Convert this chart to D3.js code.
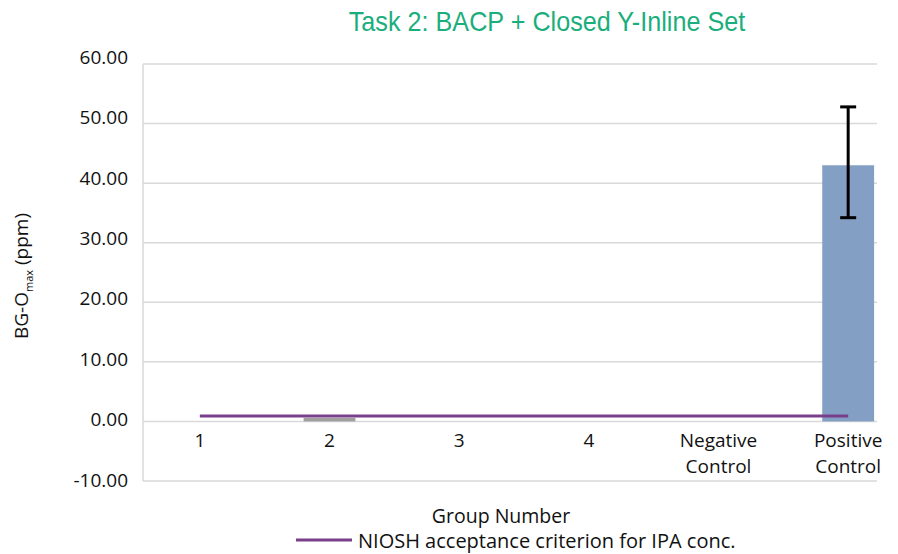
<!DOCTYPE html>
<html>
<head>
<meta charset="utf-8">
<script src="https://cdn.jsdelivr.net/npm/d3@7"></script>
<style>
  body { margin: 0; background: #fff; }
  text { font-family: "Open Sans", sans-serif; fill: #111; }
</style>
</head>
<body>
<svg id="chart"></svg>
<script>
let w = 898;
let h = 554;

// data
const categories = ['1', '2', '3', '4', 'Negative Control', 'Positive Control'];
const values = [null, 0.6, null, null, null, 43.0];
const errLow = [null, null, null, null, null, 34.2];
const errHigh = [null, null, null, null, null, 52.8];
const barColors = ['#a5a5a5', '#a0a0a0', '#a5a5a5', '#a5a5a5', '#a5a5a5', '#849fc4'];
const nioshValue = 0.9;
const yTicks = [-10, 0, 10, 20, 30, 40, 50, 60];

const svg = d3.select('#chart')
  .attr('width', w)
  .attr('height', h)

const plotLeft = 143;
const plotRight = 877;

const x = d3.scaleBand()
  .domain(categories)
  .range([135, 913])
  .paddingInner(0.6)
  .paddingOuter(0.3)

const y = d3.scaleLinear()
  .domain([-10, 60])
  .range([481, 64])

// tick labels sit on a slightly wider spacing than the grid in the original
const yLab = d3.scaleLinear()
  .domain([-10, 60])
  .range([480, 57])

// title (condensed look)
svg.append('text')
  .attr('transform', 'translate(547,31) scale(0.9,1)')
  .attr('text-anchor', 'middle')
  .style('font-family', '"Liberation Sans Narrow", "Liberation Sans", sans-serif')
  .style('font-size', '28px')
  .style('fill', '#1bae7d')
  .text('Task 2: BACP + Closed Y-Inline Set')

// grid
svg.append('g')
  .selectAll('line')
  .data(yTicks)
  .enter()
  .append('line')
  .attr('x1', plotLeft)
  .attr('x2', plotRight)
  .attr('y1', d => y(d))
  .attr('y2', d => y(d))
  .attr('stroke', '#d9d9d9')
  .attr('stroke-width', 1.5)

svg.append('line')
  .attr('x1', plotLeft)
  .attr('x2', plotLeft)
  .attr('y1', y(60))
  .attr('y2', y(-10))
  .attr('stroke', '#d9d9d9')
  .attr('stroke-width', 1.5)

// y tick labels
svg.append('g')
  .selectAll('text')
  .data(yTicks)
  .enter()
  .append('text')
  .attr('x', 128)
  .attr('y', d => yLab(d))
  .attr('dy', '0.35em')
  .attr('text-anchor', 'end')
  .style('font-size', '19px')
  .text(d => d.toFixed(2))

// bars
const barData = categories.map((c, i) => ({cat: c, v: values[i], color: barColors[i]}))
  .filter(d => d.v !== null)

svg.append('g')
  .selectAll('rect')
  .data(barData)
  .enter()
  .append('rect')
  .attr('x', d => x(d.cat))
  .attr('width', x.bandwidth())
  .attr('y', d => y(Math.max(0, d.v)))
  .attr('height', d => Math.abs(y(d.v) - y(0)))
  .attr('fill', d => d.color)

// error bars
const errData = categories.map((c, i) => ({cat: c, lo: errLow[i], hi: errHigh[i]}))
  .filter(d => d.lo !== null)

const eg = svg.append('g').attr('stroke', '#000').attr('stroke-width', 3)
errData.forEach(d => {
  const cx = x(d.cat) + x.bandwidth() / 2;
  eg.append('line').attr('x1', cx).attr('x2', cx).attr('y1', y(d.hi)).attr('y2', y(d.lo))
  eg.append('line').attr('x1', cx - 8).attr('x2', cx + 8).attr('y1', y(d.hi)).attr('y2', y(d.hi))
  eg.append('line').attr('x1', cx - 8).attr('x2', cx + 8).attr('y1', y(d.lo)).attr('y2', y(d.lo))
})

// NIOSH line
const line = d3.line()
  .x(d => x(d) + x.bandwidth() / 2)
  .y(() => y(nioshValue))

svg.append('path')
  .datum([categories[0], categories[categories.length - 1]])
  .attr('d', line)
  .attr('fill', 'none')
  .attr('stroke', '#7a3f8b')
  .attr('stroke-width', 3)

// category labels
const catG = svg.append('g')
categories.forEach(c => {
  const parts = c.split(' ');
  const t = catG.append('text')
    .attr('x', x(c) + x.bandwidth() / 2)
    .attr('y', 447)
    .attr('text-anchor', 'middle')
    .style('font-size', '19px')
  parts.forEach((p, j) => {
    t.append('tspan')
      .attr('x', x(c) + x.bandwidth() / 2)
      .attr('dy', j === 0 ? 0 : 26)
      .text(p)
  })
})

// axis titles
svg.append('text')
  .attr('x', 501)
  .attr('y', 523)
  .attr('text-anchor', 'middle')
  .style('font-size', '19.5px')
  .text('Group Number')

const yt = svg.append('text')
  .attr('transform', 'translate(28,276) rotate(-90)')
  .attr('text-anchor', 'middle')
  .style('font-size', '19px')
yt.append('tspan').text('BG-O')
yt.append('tspan').attr('dy', 5).style('font-size', '11px').text('max')
yt.append('tspan').attr('dy', -5).text(' (ppm)')

// legend
svg.append('line')
  .attr('x1', 296)
  .attr('x2', 352)
  .attr('y1', 540)
  .attr('y2', 540)
  .attr('stroke', '#7a3f8b')
  .attr('stroke-width', 3)

svg.append('text')
  .attr('x', 358)
  .attr('y', 548)
  .style('font-size', '20px')
  .text('NIOSH acceptance criterion for IPA conc.')
</script>
</body>
</html>
